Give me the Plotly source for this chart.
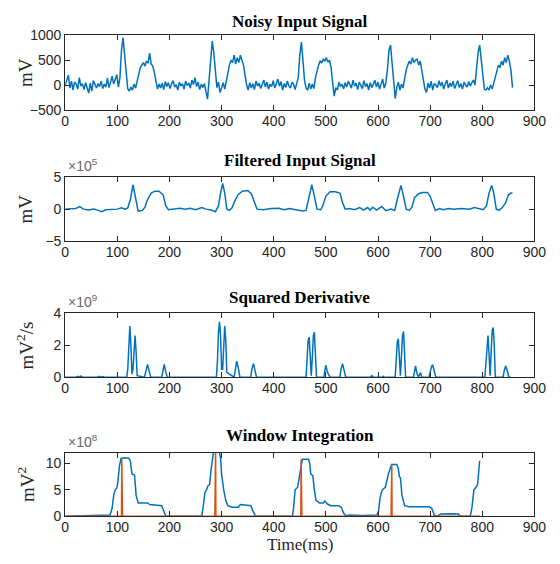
import numpy as np
import plotly.graph_objects as go

# ---------------- data ----------------
noisy_step_ms = 3
noisy_mv = [
    0, 120, 200, -60, 80, -100, 60, 20, -80, 150,
    -20, 30, -90, 50, -40, -160, 40, -120, 90, 10,
    -60, 30, -30, 80, -70, 20, -40, 140, -50, 60,
    180, 20, 120, 210, -40, 150, 700, 950, 600, 200,
    -80, -120, -40, -100, 20, -60, 100, 250, 350, 400,
    450, 380, 480, 440, 640, 420, 380, 250, 50, -80,
    20, -60, 40, -90, 70, -30, 50, -70, 20, 90,
    -40, 10, -100, 60, -20, 30, -80, 80, -10, 40,
    -60, 100, 10, 150, -30, 60, -90, 20, -50, 30,
    -130, -280, 100, 600, 880, 650, 250, -50, 60, -150,
    -60, 50, -80, 100, 300, 400, 500, 450, 600, 420,
    550, 450, 600, 480, 400, 200, 0, -100, 50, -60,
    30, -90, 80, -20, 40, -70, 10, 100, -40, 60,
    -80, 20, -30, 90, -60, 40, 120, -20, 70, -100,
    30, -50, 80, -10, -60, 60, 20, -90, 40, 150,
    600, 860, 500, 100, -60, -100, 40, -80, 20, -70,
    150, 300, 400, 480, 450, 520, 480, 550, 460, 500,
    350, 50, -220, -50, -100, 60, -30, 20, -80, 50,
    -40, 80, 10, -60, 100, -20, 40, -90, 60, 0,
    -70, 90, -30, 30, -100, 50, -50, 20, 100, -40,
    60, -80, 30, 120, -60, 40, 300, 700, 800, 400,
    0, -270, -50, 60, -100, 20, -60, 150, 300, 400,
    480, 420, 550, 450, 500, 520, 400, 480, 300, 100,
    -80, -150, 40, -60, 80, -100, 30, 0, -50, 90,
    -20, 60, -80, 20, 100, -60, 40, -30, 80, -70,
    10, 90, -50, 30, -80, 60, 0, -40, 70, -20,
    50, 100, 0, 300, 650, 800, 500, 100, -80, -100,
    -50, -100, 0, -80, 50, 200, 300, 400, 350, 480,
    400, 550, 450, 600, 480, 300, -50,
]

filt_t = [0, 10, 20, 28, 35, 45, 55, 62, 70, 78, 90, 100, 108, 115, 120, 125, 130, 135, 140, 148,
          153, 158, 165, 172, 180, 188, 193, 198, 210, 220, 230, 240, 250, 262, 270, 280, 288, 294, 298, 302,
          306, 310, 315, 320, 325, 332, 340, 350, 357, 363, 368, 380, 395, 410, 420, 430, 445, 455, 462, 467,
          473, 478, 483, 490, 494, 500, 508, 518, 527, 532, 537, 545, 555, 565, 572, 580, 585, 590, 597, 607,
          615, 625, 632, 637, 644, 649, 654, 660, 665, 670, 678, 685, 695, 700, 705, 710, 718, 725, 735, 745,
          760, 775, 785, 795, 802, 808, 813, 818, 822, 827, 832, 838, 845, 850, 855, 858]
filt_e5 = [0, 0, 0.1, 0.4, 0, -0.15, 0, -0.15, -0.4, -0.1, -0.1, 0, 0.2, 0, 0.2, 1.5, 3.8, 2.0, -0.3, -0.2,
           0.3, 1.5, 2.5, 2.8, 2.8, 2.2, 0.5, -0.1, 0, 0.15, 0, 0.15, -0.1, 0.25, 0, -0.15, -0.4, 0.5, 2.5, 4.0,
           2.5, 0, -0.2, 0.2, 1.2, 2.3, 2.8, 2.9, 2.4, 1.0, 0, -0.1, 0.1, 0.15, -0.1, 0.1, -0.15, -0.3, -0.2, 1.5,
           3.8, 2.0, 0, -0.1, 0.5, 2.0, 2.7, 2.7, 2.5, 1.0, 0, 0.1, -0.1, 0.25, -0.15, 0.25, -0.15, 0.3, -0.15, 0.4,
           -0.25, 0, -0.2, 1.5, 3.7, 2.0, 0, -0.2, 0.3, 1.8, 2.4, 2.6, 2.6, 2.0, 0.8, -0.2, 0.1, -0.1, 0.1, 0,
           0.1, 0, 0.25, 0, -0.1, 0.5, 2.5, 3.7, 2.5, 0, -0.2, 0.2, 1.0, 2.2, 2.5, 2.5]

sq_t = [0, 20, 25, 28, 30, 33, 62, 65, 68, 72, 75, 118, 120, 122, 124, 126, 128, 130, 132, 134,
        136, 138, 152, 155, 158, 161, 164, 185, 187, 190, 193, 196, 290, 292, 294, 296, 298, 300, 302, 304,
        306, 308, 310, 324, 326, 329, 332, 335, 356, 358, 361, 364, 367, 462, 464, 466, 468, 470, 472, 474,
        476, 478, 480, 482, 496, 498, 500, 503, 505, 508, 527, 529, 532, 535, 538, 585, 588, 591, 608, 610,
        612, 633, 635, 637, 639, 641, 643, 645, 647, 649, 651, 653, 668, 670, 672, 675, 678, 680, 682, 684,
        698, 700, 703, 705, 708, 711, 805, 807, 809, 811, 813, 815, 817, 819, 821, 823, 825, 840, 842, 845,
        848, 851, 855]
sq_e9 = [0, 0, 0.05, 0, 0.08, 0, 0, 0.06, 0, 0.04, 0, 0, 0.5, 2.0, 3.2, 2.0, 0.2, 0.5, 1.8, 2.6,
         1.6, 0.1, 0, 0.4, 0.8, 0.4, 0, 0, 0.4, 0.8, 0.3, 0, 0, 1.0, 2.8, 3.45, 2.6, 0.5, 0.5, 2.5,
         3.2, 2.3, 0.3, 0, 0.5, 1.0, 0.6, 0, 0, 0.5, 0.85, 0.4, 0, 0, 1.0, 2.3, 2.5, 1.5, 0.1, 1.2,
         2.6, 2.8, 1.5, 0, 0, 0.5, 0.75, 0.3, 0.15, 0, 0, 0.5, 0.85, 0.5, 0, 0, 0.1, 0, 0, 0.06,
         0, 0, 1.0, 2.2, 2.4, 1.4, 0.1, 1.3, 2.6, 2.85, 1.6, 0, 0, 0.5, 0.7, 0.2, 0, 0.2, 0.25, 0,
         0, 0.3, 0.7, 0.75, 0.3, 0, 0, 1.0, 2.3, 2.6, 1.5, 0.1, 1.5, 2.9, 3.1, 2.0, 0, 0, 0.4, 0.7,
         0.4, 0, 0]

win_t = [0, 20, 50, 60, 80, 86, 90, 93, 96, 99, 101, 104, 107, 112, 122, 125, 128, 133, 136, 140,
         158, 162, 185, 189, 193, 200, 240, 262, 265, 268, 271, 274, 277, 280, 285, 295, 298, 300, 304, 308,
         312, 320, 332, 336, 345, 356, 360, 365, 436, 438, 441, 446, 450, 455, 467, 469, 471, 475, 478, 481,
         488, 495, 498, 503, 510, 525, 530, 534, 538, 545, 570, 598, 601, 604, 608, 614, 620, 626, 636, 639,
         641, 643, 646, 651, 660, 680, 698, 703, 708, 714, 720, 740, 754, 758, 777, 780, 784, 788, 791, 795]
win_e8 = [0, 0.05, 0.15, 0.2, 0.15, 0.2, 1.5, 4.0, 5.0, 5.3, 6.5, 9.5, 11.0, 11.1, 11.0, 10.5, 8.0, 7.8, 4.0, 2.5,
          2.5, 2.2, 2.0, 1.0, 0, 0, 0, 0, 2.0, 4.5, 5.0, 5.8, 6.0, 9.0, 12.5, 12.6, 11.0, 8.0, 5.0, 3.0,
          2.0, 1.7, 1.7, 2.2, 2.1, 2.0, 1.0, 0, 0, 1.5, 5.0, 5.5, 8.0, 10.8, 10.8, 10.0, 8.0, 7.7, 5.0, 3.0,
          2.5, 2.5, 2.9, 2.3, 2.0, 2.0, 1.6, 0.6, 0.1, 0.2, 0.15, 0.2, 1.0, 3.5, 5.0, 5.5, 8.0, 9.8, 9.8, 9.0,
          7.5, 7.3, 4.0, 2.0, 1.8, 1.8, 1.8, 1.5, 0.2, 0, 0.4, 0.45, 0.4, 0, 0, 1.5, 5.0, 5.5, 6.0, 10.5]

peak_t = [0, 108, 108.5, 109, 109.5, 110, 287, 287.5, 288, 288.5, 289, 452, 452.5, 453, 453.5, 454,
          625, 625.5, 626, 626.5, 627, 795]
peak_e8 = [0, 0, 11.0, 0, 11.0, 0, 0, 13.0, 0, 13.0, 0, 0, 10.8, 0, 10.8, 0,
           0, 9.8, 0, 9.8, 0, 0]

titles = ["Noisy Input Signal", "Filtered Input Signal", "Squared Derivative", "Window Integration"]
ylabels = ["mV", "mV", "mV<sup>2</sup>/s", "mV<sup>2</sup>"]
exponents = [None, "5", "9", "8"]
y_ranges = [[-500, 1000], [-5, 5], [0, 4], [0, 12]]
y_ticks = [[-500, 0, 500, 1000], [-5, 0, 5], [0, 2, 4], [0, 5, 10]]
x_ticks = [0, 100, 200, 300, 400, 500, 600, 700, 800, 900]

# ---------------- layout geometry ----------------
W, H = 560, 564
x_left, x_right = 63, 546
panels_px = [(28, 105), (174, 240), (314, 380), (458, 523)]  # top, bottom in px
title_y_px = [14, 157, 298, 440]

BLUE = "#0072BD"
RED = "#D95319"
AX = "#262626"

fig = go.Figure()
noisy_t = np.arange(len(noisy_mv)) * noisy_step_ms
series = [(noisy_t, noisy_mv), (filt_t, filt_e5), (sq_t, sq_e9), (win_t, win_e8)]

layout = dict(width=W, height=H, margin=dict(l=0, r=0, t=0, b=0),
              paper_bgcolor="white", plot_bgcolor="white", showlegend=False)
annotations = []
for i in range(4):
    xa = "x" if i == 0 else f"x{i+1}"
    ya = "y" if i == 0 else f"y{i+1}"
    xt, yv = series[i]
    fig.add_trace(go.Scatter(x=list(xt), y=yv, mode="lines", xaxis=xa, yaxis=ya,
                             line=dict(color=BLUE, width=1.5)))
    top, bot = panels_px[i]
    common = dict(showline=True, linecolor=AX, linewidth=1, mirror="ticks",
                  ticks="inside", ticklen=5, tickcolor=AX, tickwidth=1,
                  showgrid=False, zeroline=False,
                  tickfont=dict(family="Liberation Sans, Arial, sans-serif", size=14, color=AX))
    layout["xaxis" if i == 0 else f"xaxis{i+1}"] = dict(
        domain=[x_left / W, x_right / W], range=[0, 900], tickvals=x_ticks,
        anchor=ya, ticklabelstandoff=-2, **common)
    layout["yaxis" if i == 0 else f"yaxis{i+1}"] = dict(
        domain=[1 - bot / H, 1 - top / H], range=y_ranges[i], tickvals=y_ticks[i],
        anchor=xa, **common)
    annotations.append(dict(text=f"<b>{titles[i]}</b>", xref="paper", yref="paper",
                            x=(x_left + x_right) / 2 / W, y=1 - title_y_px[i] / H,
                            xanchor="center", yanchor="middle", showarrow=False,
                            font=dict(family="Liberation Serif, Times New Roman, serif", size=17, color="black")))
    annotations.append(dict(text=ylabels[i], xref="paper", yref="paper",
                            x=22 / W, y=1 - (top + bot) / 2 / H, textangle=-90,
                            xanchor="center", yanchor="middle", showarrow=False,
                            font=dict(family="Liberation Serif, Times New Roman, serif", size=19, color=AX)))
    if exponents[i]:
        annotations.append(dict(text=f"×10<sup>{exponents[i]}</sup>", xref="paper", yref="paper",
                                x=(x_left + 1) / W, y=1 - (top - 1) / H,
                                xanchor="left", yanchor="bottom", showarrow=False,
                                font=dict(family="Liberation Sans, Arial, sans-serif", size=14, color="#666666")))

fig.add_trace(go.Scatter(x=peak_t, y=peak_e8, mode="lines", xaxis="x4", yaxis="y4",
                         line=dict(color=RED, width=1.5)))

annotations.append(dict(text="Time(ms)", xref="paper", yref="paper",
                        x=(x_left + x_right) / 2 / W, y=1 - 564 / H,
                        xanchor="center", yanchor="bottom", showarrow=False,
                        font=dict(family="Liberation Serif, Times New Roman, serif", size=17, color=AX)))
layout["annotations"] = annotations
fig.update_layout(**layout)
fig.write_html("out.html", config={"displayModeBar": False},
               post_script="document.body.style.margin='0';document.body.style.overflow='hidden';")
